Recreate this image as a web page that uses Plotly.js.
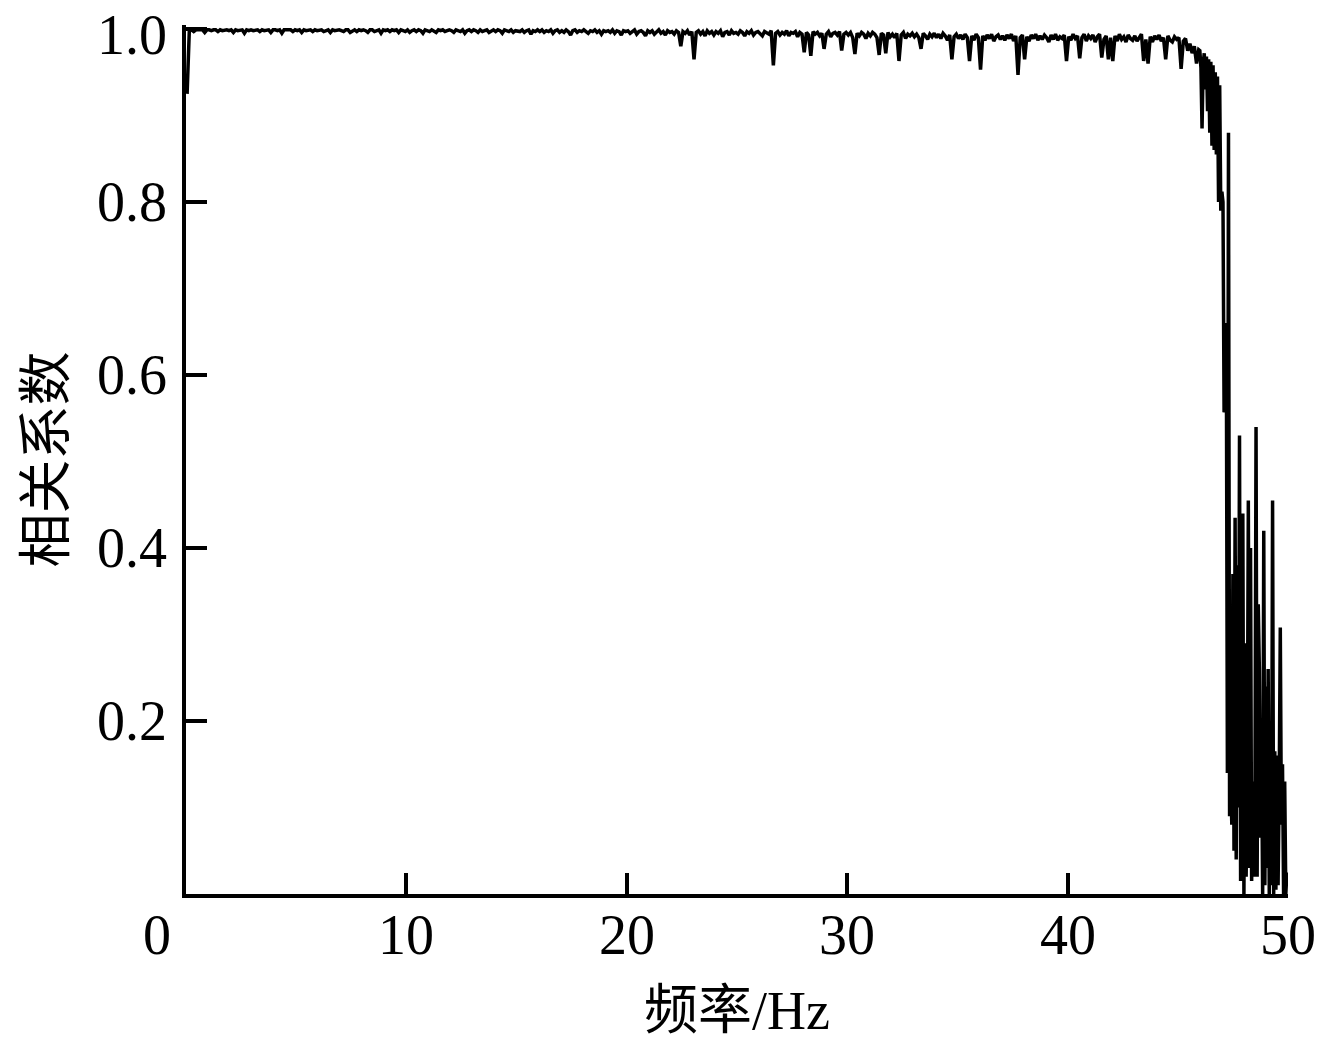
<!DOCTYPE html>
<html>
<head>
<meta charset="utf-8">
<script src="https://cdn.plot.ly/plotly-3.0.1.min.js"></script>
<style>html,body{margin:0;padding:0;background:#fff;}#chart{width:1324px;height:1044px;}</style>
</head>
<body>
<div id="chart"></div>
<script>
// Frequency grid: coarse part starts at 0.05 Hz with 0.1 Hz spacing, fine part starts at 46.00 Hz with 0.05 Hz spacing
const coarseStart = 0.05, coarseStep = 0.1;
const fineStart = 46.0, fineStep = 0.05;

// Correlation coefficient, 0.05 – 45.95 Hz (10 values per Hz)
const corrCoarse = [
 .925,.998,.999,.997,.999,.999,.998,.999,.996,.999,
 .999,.998,.999,.999,.997,.999,.998,.999,.999,.998,
 .999,.996,.999,.998,.999,.999,.995,.999,.998,.999,
 .998,.999,.999,.997,.999,.998,.999,.999,.996,.999,
 .999,.998,.999,.995,.999,.999,.998,.999,.997,.999,
 .998,.999,.996,.999,.998,.999,.999,.997,.999,.998,
 .999,.999,.997,.998,.999,.996,.999,.998,.999,.999,
 .998,.997,.999,.999,.996,.998,.999,.997,.999,.998,
 .999,.998,.996,.999,.999,.997,.998,.999,.995,.999,
 .998,.999,.997,.999,.998,.999,.996,.999,.998,.997,
 .999,.996,.998,.999,.997,.999,.998,.995,.999,.998,
 .997,.999,.998,.996,.999,.998,.999,.997,.998,.999,
 .998,.996,.999,.998,.997,.999,.995,.998,.999,.997,
 .999,.998,.996,.999,.997,.998,.999,.996,.998,.999,
 .997,.999,.998,.995,.999,.998,.997,.999,.996,.998,
 .998,.997,.999,.996,.998,.999,.994,.998,.997,.999,
 .997,.999,.996,.998,.997,.999,.995,.998,.999,.996,
 .998,.996,.999,.997,.993,.998,.999,.996,.998,.997,
 .999,.997,.995,.998,.997,.999,.996,.998,.994,.998,
 .997,.998,.996,.999,.995,.998,.997,.993,.998,.997,
 .998,.995,.997,.999,.994,.997,.998,.996,.992,.998,
 .996,.998,.994,.997,.999,.995,.997,.993,.998,.996,
 .997,.994,.998,.996,.980,.997,.995,.998,.993,.997,
 .965,.996,.998,.994,.997,.992,.998,.995,.997,.993,
 .997,.995,.998,.991,.996,.997,.993,.998,.995,.996,
 .994,.998,.996,.992,.997,.995,.998,.993,.996,.997,
 .995,.992,.997,.996,.994,.998,.958,.995,.997,.993,
 .996,.994,.998,.992,.996,.995,.997,.991,.996,.994,
 .973,.996,.993,.969,.997,.994,.996,.992,.995,.977,
 .994,.997,.991,.995,.996,.993,.997,.975,.994,.996,
 .993,.996,.990,.971,.995,.992,.996,.994,.989,.995,
 .992,.996,.994,.990,.970,.995,.993,.972,.996,.991,
 .994,.990,.995,.963,.993,.996,.989,.994,.992,.995,
 .991,.994,.990,.977,.995,.992,.988,.994,.991,.995,
 .990,.994,.989,.995,.992,.987,.993,.965,.991,.994,
 .989,.993,.988,.994,.990,.963,.992,.987,.994,.990,
 .953,.992,.987,.993,.989,.994,.986,.991,.993,.988,
 .992,.987,.993,.989,.994,.986,.992,.947,.990,.993,
 .965,.991,.986,.993,.989,.994,.987,.992,.988,.993,
 .990,.985,.993,.988,.994,.987,.991,.989,.993,.963,
 .991,.987,.994,.989,.992,.966,.990,.994,.986,.992,
 .989,.993,.985,.991,.994,.967,.988,.992,.965,.990,
 .963,.992,.986,.994,.988,.991,.985,.993,.989,.987,
 .992,.986,.990,.994,.963,.988,.960,.991,.985,.992,
 .988,.993,.986,.990,.965,.992,.987,.985,.991,.988,
 .990,.954,.986,.989,.975,.983,.972,.980,.960,.976
];

// Correlation coefficient, 46.00 – 49.95 Hz (20 values per Hz)
const corrFine = [
 .975,.955,.885,.960,.972,.930,.968,.905,.965,.880,
 .962,.865,.958,.860,.950,.855,.945,.800,.935,.790,
 .812,.800,.557,.560,.660,.140,.880,.090,.140,.080,
 .370,.050,.435,.040,.380,.100,.530,.015,.200,.440,
 .000,.290,.020,.120,.455,.030,.400,.015,.130,.020,
 .100,.540,.020,.335,.260,.065,.165,.000,.420,.010,
 .240,.030,.260,.000,.200,.010,.455,.000,.165,.005,
 .160,.010,.120,.308,.080,.150,.000,.130,.000,.025
];

const xTickVals = [0, 10, 20, 30, 40, 50];
const xTickText = ['0', '10', '20', '30', '40', '50'];
const yTickVals = [0.2, 0.4, 0.6, 0.8, 1.0];
const yTickText = ['0.2', '0.4', '0.6', '0.8', '1.0'];
const xTitle = '频率/Hz';
const yTitle = '相关系数';

const freq = [], corr = [];
corrCoarse.forEach((v, i) => { freq.push(+(coarseStart + coarseStep * i).toFixed(3)); corr.push(v); });
corrFine.forEach((v, i) => { freq.push(+(fineStart + fineStep * i).toFixed(3)); corr.push(v); });

const serif = 'Liberation Serif, Times New Roman, Noto Sans CJK SC, serif';
const cjk = 'Liberation Serif, Noto Sans CJK SC, sans-serif';
const tickFont = {family: serif, size: 56, color: '#000'};

const trace = {
  x: freq, y: corr, type: 'scatter', mode: 'lines',
  line: {color: '#000', width: 3.5},
  hoverinfo: 'skip'
};

// x tick labels drawn as annotations so they sit at the reference height; the "0" is offset left as in the original
const annotations = xTickVals.map((v, i) => ({
  x: v, y: 0, xref: 'x', yref: 'paper', text: xTickText[i], showarrow: false,
  xanchor: 'center', yanchor: 'top', xshift: v === 0 ? -29 : 0, yshift: -8,
  font: tickFont
}));
// y tick labels drawn as annotations too (so the top "1.0" is not dropped)
yTickVals.forEach((v, i) => annotations.push({
  x: 0, y: v, xref: 'paper', yref: 'y', text: yTickText[i], showarrow: false,
  xanchor: 'right', yanchor: 'middle', xshift: -18, yshift: v === 1 ? -6 : 0,
  borderpad: 0,
  font: tickFont
}));

const layout = {
  width: 1324, height: 1044,
  margin: {l: 186, r: 36, t: 25, b: 150, pad: 0},
  paper_bgcolor: '#fff', plot_bgcolor: '#fff',
  showlegend: false,
  font: {family: serif, color: '#000', size: 56},
  xaxis: {
    range: [0, 50], tickvals: xTickVals, showticklabels: false,
    ticks: 'inside', ticklen: 21, tickwidth: 4, tickcolor: '#000',
    showline: true, linecolor: '#000', linewidth: 4,
    showgrid: false, zeroline: false,
    title: {text: xTitle, font: {family: cjk, size: 54, color: '#000'}, standoff: 95}
  },
  yaxis: {
    range: [0, 1.0046], tickvals: yTickVals, showticklabels: false,
    ticks: 'inside', ticklen: 21, tickwidth: 4, tickcolor: '#000',
    showline: true, linecolor: '#000', linewidth: 4,
    showgrid: false, zeroline: false,
    title: {text: yTitle, font: {family: cjk, size: 54, color: '#000'}, standoff: 100}
  },
  annotations: annotations
};

Plotly.newPlot('chart', [trace], layout, {displayModeBar: false, staticPlot: true});
</script>
</body>
</html>
